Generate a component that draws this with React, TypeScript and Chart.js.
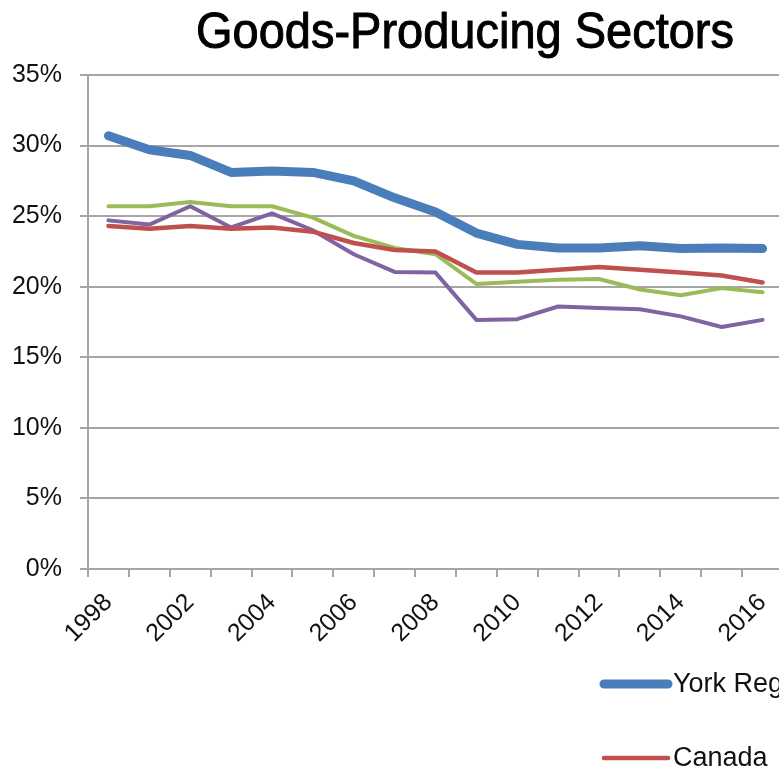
import React, { useEffect, useRef } from 'react';
import { Chart, registerables } from 'chart.js';

Chart.register(...registerables);

const years = ['1998', '2001', '2002', '2003', '2004', '2005', '2006', '2007', '2008', '2009', '2010', '2011', '2012', '2013', '2014', '2015', '2016'];
const yorkRegion = [30.7, 29.7, 29.3, 28.1, 28.2, 28.1, 27.5, 26.3, 25.3, 23.8, 23.0, 22.75, 22.75, 22.9, 22.7, 22.75, 22.7];
const canada = [24.3, 24.1, 24.3, 24.1, 24.2, 23.9, 23.1, 22.6, 22.5, 21.0, 21.0, 21.2, 21.4, 21.2, 21.0, 20.8, 20.3];
const ontario = [25.7, 25.7, 26.0, 25.7, 25.7, 24.9, 23.6, 22.75, 22.3, 20.2, 20.35, 20.5, 20.55, 19.8, 19.4, 19.9, 19.6];
const gta = [24.7, 24.4, 25.7, 24.2, 25.2, 24.0, 22.3, 21.05, 21.0, 17.65, 17.7, 18.6, 18.5, 18.4, 17.9, 17.15, 17.65];
const seriesNames = ['York Region', 'Canada', 'Ontario', 'GTA'];
const seriesColors = ['#4a7ebb', '#c0504d', '#9bbb59', '#8064a2'];
const seriesWidths = [9, 4.5, 4, 4];
const titleText = 'Goods-Producing Sectors';
const yMin = 0;
const yMax = 35;
const yStep = 5;

const TICK_FONT = '"Liberation Sans", Arial, sans-serif';

const titlePlugin = {
  id: 'customTitle',
  afterDraw(chart: any) {
    const ctx = chart.ctx;
    ctx.save();
    ctx.fillStyle = '#000';
    ctx.strokeStyle = '#000';
    ctx.lineWidth = 1;
    ctx.lineJoin = 'round';
    ctx.font = `50px ${TICK_FONT}`;
    ctx.textAlign = 'center';
    ctx.textBaseline = 'alphabetic';
    ctx.fillText(titleText, chart.width / 2, 48, 538);
    ctx.strokeText(titleText, chart.width / 2, 48, 538);
    ctx.restore();
  },
};

const legendPlugin = {
  id: 'customLegend',
  afterDraw(chart: any) {
    const ctx = chart.ctx;
    const area = chart.chartArea;
    const slots = [
      { x: area.left + 516, y: 684 },
      { x: area.left + 516, y: 758 },
      { x: area.left + 770, y: 684 },
      { x: area.left + 770, y: 758 },
    ];
    chart.data.datasets.forEach((ds: any, i: number) => {
      const s = slots[i];
      ctx.save();
      ctx.strokeStyle = ds.borderColor;
      ctx.lineWidth = ds.borderWidth;
      ctx.lineCap = 'round';
      ctx.beginPath();
      ctx.moveTo(s.x, s.y);
      ctx.lineTo(s.x + 64, s.y);
      ctx.stroke();
      ctx.fillStyle = '#111';
      ctx.font = `27px ${TICK_FONT}`;
      ctx.textBaseline = 'middle';
      ctx.textAlign = 'left';
      ctx.fillText(ds.label, s.x + 69, s.y + 1);
      ctx.restore();
    });
  },
};

export default function App() {
  const ref = useRef<HTMLCanvasElement | null>(null);
  useEffect(() => {
    if (!ref.current) return;
    const chart = new Chart(ref.current, {
      type: 'line',
      data: {
        labels: years,
        datasets: [yorkRegion, canada, ontario, gta].map((d, i) => ({
          label: seriesNames[i],
          data: d,
          borderColor: seriesColors[i],
          backgroundColor: seriesColors[i],
          borderWidth: seriesWidths[i],
          pointRadius: 0,
          tension: 0,
          borderCapStyle: 'round' as const,
          borderJoinStyle: 'round' as const,
        })),
      },
      options: {
        responsive: false,
        animation: false,
        layout: { padding: { top: 75, right: 147, bottom: 0, left: 0 } },
        plugins: {
          legend: { display: false },
          tooltip: { enabled: false },
          title: { display: false },
        },
        scales: {
          x: {
            offset: true,
            afterFit(scale: any) { scale.height = 203; },
            grid: { display: true, drawOnChartArea: false, offset: true, tickLength: 8, color: '#a6a6a6', lineWidth: 2 },
            border: { display: true, color: '#a6a6a6', width: 2 },
            ticks: {
              autoSkip: false,
              minRotation: 45,
              maxRotation: 45,
              padding: 11,
              color: '#111',
              font: { family: TICK_FONT, size: 25 },
              callback: (_v: any, i: number) => (i % 2 === 0 ? years[i] : ''),
            },
          },
          y: {
            min: yMin,
            max: yMax,
            afterFit(scale: any) { scale.width = 88; },
            grid: { color: '#a6a6a6', lineWidth: 2, tickLength: 8 },
            border: { display: true, color: '#a6a6a6', width: 2 },
            ticks: {
              stepSize: yStep,
              padding: 18,
              color: '#111',
              font: { family: TICK_FONT, size: 25 },
              callback: (v: any) => `${v}%`,
            },
          },
        },
      },
      plugins: [titlePlugin, legendPlugin],
    });
    return () => chart.destroy();
  }, []);
  return (
    <div style={{ position: 'absolute', left: 0, top: 0, width: 779, height: 772, overflow: 'hidden', background: '#fff' }}>
      <canvas ref={ref} width={930} height={772} style={{ display: 'block' }} />
    </div>
  );
}
